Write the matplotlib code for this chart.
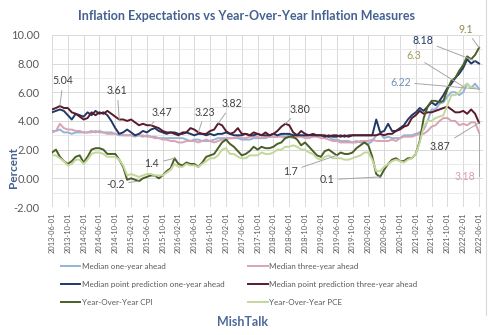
import numpy as np
import pandas as pd
import matplotlib
matplotlib.use('Agg')
import matplotlib.pyplot as plt
from matplotlib.lines import Line2D

plt.rcParams['font.family'] = ['Lato', 'DejaVu Sans']

# monthly, 2013-06 .. 2022-06
fechas = pd.date_range('2013-06-01', periods=109, freq='MS')

med_1y = [3.3, 3.3, 3.4, 3.2, 3.2, 3.1, 3.2,
          3.2, 3.2, 3.2, 3.3, 3.2, 3.3, 3.2, 3.2, 3.2, 3.1, 3.0, 3.0,
          3.0, 3.0, 2.9, 3.0, 2.9, 3.0, 2.9, 2.9, 2.8, 2.8, 2.8, 2.8,
          2.8, 2.8, 2.8, 2.7, 2.6, 2.7, 2.7, 2.6, 2.6, 2.6, 2.7, 2.8,
          2.8, 2.8, 2.8, 2.8, 2.8, 2.7, 2.7, 2.7, 2.8, 2.8, 2.8, 2.8,
          2.9, 2.9, 2.9, 3.0, 2.9, 3.0, 3.0, 3.0, 3.0, 2.9, 3.0, 3.0,
          3.0, 3.0, 2.9, 2.9, 2.7, 2.7, 2.6, 2.6, 2.6, 2.5, 2.6, 2.5,
          2.5, 2.4, 2.6, 3.0, 3.1, 2.8, 2.9, 2.8, 2.8, 2.8, 3.0, 3.0,
          3.0, 3.1, 3.2, 3.4, 4.0, 4.8, 4.8, 5.2, 5.3, 5.7, 6.0, 6.0,
          5.8, 6.0, 6.6, 6.3, 6.6, 6.22]

med_3y = [3.2, 3.3, 3.8, 3.5, 3.4, 3.4, 3.3,
          3.3, 3.2, 3.2, 3.2, 3.3, 3.2, 3.2, 3.1, 3.1, 3.1, 3.1, 3.0,
          3.0, 3.0, 3.0, 3.0, 3.0, 2.9, 2.9, 2.8, 2.8, 2.7, 2.7, 2.6,
          2.6, 2.5, 2.5, 2.6, 2.6, 2.6, 2.5, 2.6, 2.7, 2.6, 2.5, 2.6,
          2.7, 2.7, 2.8, 2.8, 2.9, 2.8, 2.8, 2.9, 2.9, 2.9, 2.8, 2.9,
          2.9, 2.9, 2.9, 2.9, 2.8, 2.9, 2.8, 2.9, 2.9, 2.8, 2.8, 2.9,
          2.9, 2.8, 2.8, 2.7, 2.6, 2.6, 2.5, 2.5, 2.5, 2.5, 2.5, 2.6,
          2.6, 2.6, 2.7, 2.6, 2.6, 2.6, 2.6, 2.7, 2.6, 2.8, 2.9, 2.9,
          2.9, 3.0, 3.1, 3.1, 3.3, 3.6, 3.7, 4.0, 4.2, 4.2, 4.0, 4.0,
          3.7, 3.8, 3.7, 3.9, 3.9, 3.18]

punto_1y = [4.6, 4.7, 4.8, 4.7, 4.4, 4.1, 4.5,
            4.4, 4.3, 4.6, 4.4, 4.7, 4.5, 4.6, 4.4, 4.0, 3.5, 3.1, 3.2,
            3.4, 3.2, 3.0, 3.1, 3.3, 3.2, 3.4, 3.5, 3.3, 3.2, 3.1, 3.2,
            3.2, 3.1, 3.1, 3.2, 3.1, 3.0, 3.1, 3.1, 3.0, 3.1, 3.0, 3.1,
            3.1, 3.2, 3.1, 3.0, 3.0, 3.0, 3.1, 3.0, 3.0, 3.1, 3.0, 3.0,
            3.0, 3.1, 3.0, 3.1, 3.1, 3.1, 3.0, 3.0, 3.0, 3.0, 3.0, 3.0,
            3.0, 3.0, 2.9, 3.0, 2.9, 2.9, 3.0, 2.9, 3.0, 3.0, 3.0, 3.0,
            3.0, 3.0, 3.0, 4.1, 3.2, 3.3, 3.8, 3.3, 3.3, 3.5, 3.7, 4.1,
            4.4, 4.6, 4.9, 4.7, 5.0, 5.3, 5.1, 5.4, 5.8, 6.3, 6.6, 7.0,
            7.3, 7.7, 8.3, 8.0, 8.18, 8.0]

punto_3y = [4.8, 4.9, 5.04, 4.9, 4.9, 4.6, 4.5,
            4.3, 4.1, 4.2, 4.6, 4.4, 4.6, 4.5, 4.7, 4.5, 4.3, 4.1, 4.1,
            4.0, 4.1, 3.9, 3.7, 3.8, 3.7, 3.7, 3.6, 3.5, 3.3, 3.2, 3.2,
            3.1, 3.0, 3.2, 3.2, 3.5, 3.4, 3.2, 3.1, 3.1, 3.3, 3.4, 3.82,
            3.7, 3.3, 3.1, 3.2, 3.5, 3.1, 3.1, 3.0, 3.2, 3.1, 3.0, 3.2,
            3.0, 3.1, 3.3, 3.6, 3.80, 3.7, 3.2, 3.0, 3.3, 3.1, 3.0, 3.1,
            3.0, 3.0, 3.0, 2.9, 3.0, 3.0, 2.9, 3.0, 2.9, 3.0, 3.0, 3.0,
            3.0, 3.0, 3.0, 3.0, 3.1, 3.0, 3.1, 3.1, 3.3, 3.4, 3.6, 3.7,
            4.2, 4.4, 4.7, 4.5, 4.6, 4.6, 4.7, 4.8, 4.9, 5.0, 4.8, 4.6,
            4.6, 4.7, 4.5, 4.8, 4.5, 3.87]

ipc = [1.8, 2.0, 1.5, 1.2, 1.0, 1.2, 1.5,
       1.6, 1.1, 1.5, 2.0, 2.1, 2.1, 2.0, 1.7, 1.7, 1.7, 1.3, 0.8,
       -0.1, 0.0, -0.1, -0.2, 0.0, 0.1, 0.2, 0.2, 0.0, 0.2, 0.5, 0.7,
       1.4, 1.0, 0.9, 1.1, 1.0, 1.0, 0.8, 1.1, 1.5, 1.6, 1.7, 2.1,
       2.5, 2.7, 2.4, 2.2, 1.9, 1.6, 1.7, 1.9, 2.2, 2.0, 2.2, 2.1,
       2.1, 2.2, 2.4, 2.5, 2.8, 2.9, 2.9, 2.7, 2.3, 2.5, 2.2, 1.9,
       1.6, 1.5, 1.9, 2.0, 1.8, 1.6, 1.8, 1.7, 1.7, 1.8, 2.1, 2.3,
       2.5, 2.3, 1.5, 0.3, 0.1, 0.6, 1.0, 1.3, 1.4, 1.2, 1.2, 1.4,
       1.4, 1.7, 2.6, 4.2, 5.0, 5.4, 5.4, 5.3, 5.4, 6.2, 6.8, 7.0,
       7.5, 7.9, 8.5, 8.3, 8.6, 9.1]

pce = [1.6, 1.6, 1.4, 1.2, 0.9, 1.0, 1.3,
       1.3, 1.0, 1.3, 1.7, 1.8, 1.8, 1.7, 1.5, 1.5, 1.5, 1.3, 0.9,
       0.2, 0.3, 0.2, 0.1, 0.2, 0.3, 0.3, 0.2, 0.2, 0.2, 0.4, 0.6,
       1.0, 0.8, 0.8, 1.0, 0.9, 0.9, 0.8, 1.0, 1.2, 1.4, 1.4, 1.6,
       2.0, 2.1, 1.7, 1.7, 1.5, 1.4, 1.4, 1.6, 1.6, 1.6, 1.8, 1.7,
       1.7, 1.8, 2.0, 2.0, 2.2, 2.2, 2.3, 2.2, 2.0, 2.0, 1.8, 1.7,
       1.4, 1.3, 1.5, 1.6, 1.4, 1.4, 1.4, 1.3, 1.3, 1.4, 1.5, 1.6,
       1.8, 1.8, 1.3, 0.5, 0.5, 0.8, 1.0, 1.2, 1.3, 1.2, 1.1, 1.3,
       1.4, 1.7, 2.5, 3.6, 4.0, 4.0, 4.2, 4.3, 4.4, 5.1, 5.8, 5.8,
       6.0, 6.4, 6.6, 6.3, 6.3, np.nan]

series = [
    ('Median one-year ahead', med_1y, '#95b3d7'),
    ('Median three-year ahead', med_3y, '#d9a3b3'),
    ('Median point prediction one-year ahead', punto_1y, '#1f3864'),
    ('Median point prediction three-year ahead', punto_3y, '#5a1a2b'),
    ('Year-Over-Year CPI', ipc, '#4a5e26'),
    ('Year-Over-Year PCE', pce, '#c4d79b'),
]

fig = plt.figure(figsize=(5, 3.35), dpi=100)
ax = fig.add_axes([0.104, 0.382, 0.862, 0.514])

x = np.arange(len(fechas))
lineas = {}
for nombre, vals, color in series:
    ln, = ax.plot(x, vals, color=color, lw=1.4, label=nombre)
    lineas[nombre] = ln

ax.set_xlim(0, 109)
ax.set_ylim(-2, 10)
ax.set_yticks(np.arange(-2, 10.1, 2))
ax.set_yticks(np.arange(-2, 10.1, 1), minor=True)
ax.set_yticklabels([f'{v:.2f}' for v in np.arange(-2, 10.1, 2)], fontsize=8, color='#595959')
xt = x[::4]
ax.set_xticks(xt)
ax.set_xticklabels([fechas[i].strftime('%Y-%m-%d') for i in xt], rotation=90,
                   fontsize=5.4, color='#595959')
ax.tick_params(axis='both', which='both', length=0)
ax.tick_params(axis='y', pad=9)
ax.tick_params(axis='x', pad=4)
ax.grid(True, which='major', color='#d9d9d9', lw=0.7)
ax.grid(True, which='minor', axis='y', color='#e6e6e6', lw=0.6)
ax.set_axisbelow(True)
for s in ax.spines.values():
    s.set_visible(False)

# etiquetas de datos
gris = '#a6a6a6'
def etiqueta(txt, xt_, yt_, xi, vals, color='#404040'):
    ax.annotate(txt, xy=(xi, vals[xi]), xytext=(xt_, yt_), textcoords='data',
                fontsize=7.6, color=color, ha='center', va='center',
                arrowprops=dict(arrowstyle='-', color=gris, lw=0.7, shrinkA=1, shrinkB=0))

etiqueta('5.04', 2.8, 6.8, 2, punto_3y)
etiqueta('3.61', 16.5, 6.1, 17, punto_3y)
etiqueta('3.47', 27.8, 4.6, 25, punto_3y)
etiqueta('3.23', 38.7, 4.6, 37, punto_3y)
etiqueta('3.82', 45.6, 5.2, 42, punto_3y)
etiqueta('3.80', 62.8, 4.8, 59, punto_3y)
etiqueta('1.4', 25.3, 1.0, 31, ipc)
etiqueta('-0.2', 16.0, -0.4, 22, ipc)
etiqueta('1.7', 60.3, 0.5, 72, ipc)
etiqueta('0.1', 69.6, -0.1, 83, ipc)
etiqueta('9.1', 104.6, 10.4, 108, ipc, '#948a54')
etiqueta('8.18', 93.7, 9.6, 107, punto_1y, '#1f3864')
etiqueta('6.3', 91.4, 8.55, 104, pce, '#a29a5f')
etiqueta('6.22', 88.1, 6.7, 108, med_1y, '#6f8fb8')
etiqueta('3.87', 98.2, 2.2, 108, punto_3y)
ax.annotate('3.18', xy=(108, med_3y[108]), xytext=(104.4, 0.1), textcoords='data',
            fontsize=7.6, color='#d8a0a8', ha='center', va='center',
            arrowprops=dict(arrowstyle='-', color=gris, lw=0.7, shrinkA=1, shrinkB=0,
                            connectionstyle='angle,angleA=0,angleB=90,rad=0'))

fig.text(0.494, 0.952, 'Inflation Expectations vs Year-Over-Year Inflation Measures',
         ha='center', va='center', fontsize=9, fontweight='bold', color='#44618f')
fig.text(0.026, 0.5, 'Percent', rotation=90, ha='center', va='center',
         fontsize=8.5, fontweight='bold', color='#44618f')
fig.text(0.486, 0.04, 'MishTalk', ha='center', va='center',
         fontsize=9, fontweight='bold', color='#4f6a9a')

orden = ['Median one-year ahead', 'Median point prediction one-year ahead', 'Year-Over-Year CPI',
         'Median three-year ahead', 'Median point prediction three-year ahead', 'Year-Over-Year PCE']
fig.legend([lineas[n] for n in orden], orden, ncol=2, loc='upper left',
           bbox_to_anchor=(0.115, 0.225), frameon=False, fontsize=5.8,
           labelcolor='#595959', handlelength=2.4, handletextpad=0.2,
           columnspacing=3.0, labelspacing=1.35, borderaxespad=0)

fig.add_artist(Line2D([0.972, 0.972], [0.06, 1.0], color='#d9d9d9', lw=0.8))

fig.savefig('out.png', dpi=100)
